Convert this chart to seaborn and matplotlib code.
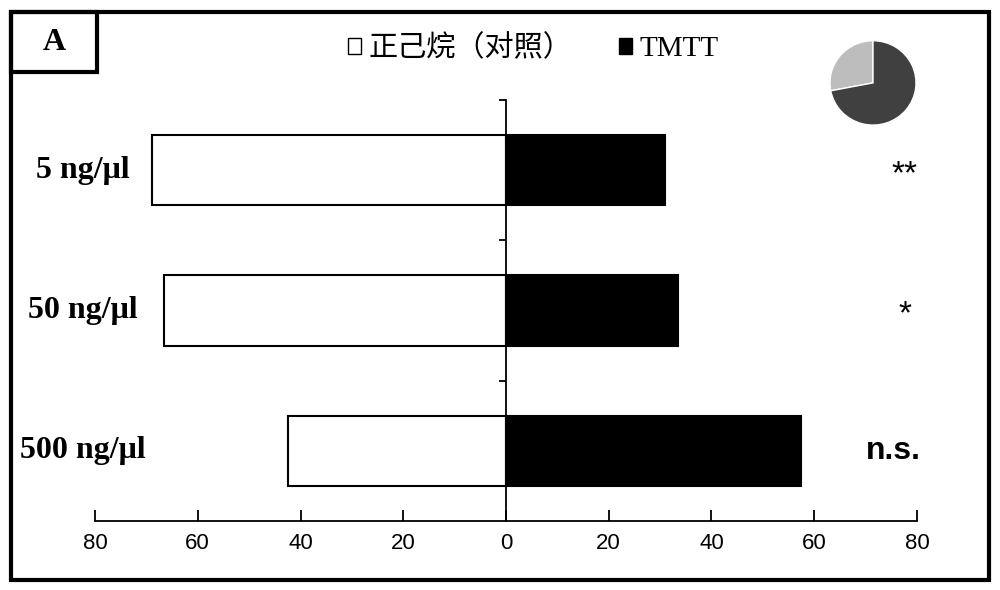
import numpy as np
import pandas as pd
import matplotlib
matplotlib.use("Agg")
import matplotlib.pyplot as plt
from matplotlib.patches import Patch, Rectangle
import seaborn as sns

# ── data ──────────────────────────────────────────────────────────────────────
doses = ["5 ng/μl", "50 ng/μl", "500 ng/μl"]
hexane_pct = [69, 66.5, 42.5]       # 正己烷（对照）, drawn to the left
tmtt_pct = [31, 33.5, 57.5]         # TMTT, drawn to the right
signif = ["**", "*", "n.s."]
pie_share = [28, 72]                # light / dark wedge
xticks = [-80, -60, -40, -20, 0, 20, 40, 60, 80]

df = pd.DataFrame({"dose": doses,
                   "hexane": [-v for v in hexane_pct],
                   "tmtt": tmtt_pct})

sns.set_theme(style="white")
plt.rcParams["font.family"] = ["Liberation Serif", "Noto Sans CJK SC", "DejaVu Sans"]
plt.rcParams.update({"text.color": "black", "xtick.color": "black",
                     "ytick.color": "black", "axes.edgecolor": "black"})

fig = plt.figure(figsize=(10, 5.9), dpi=100)
ax = fig.add_axes([0.095, 0.117, 0.822, 0.7135])

sns.barplot(data=df, x="hexane", y="dose", orient="h", color="white",
            edgecolor="black", linewidth=1.5, width=0.5, ax=ax, saturation=1)
sns.barplot(data=df, x="tmtt", y="dose", orient="h", color="black",
            edgecolor="black", linewidth=1.5, width=0.5, ax=ax, saturation=1)

ax.set_xlim(-80, 80)
ax.set_ylim(2.5, -0.5)
ax.set_xlabel("");  ax.set_ylabel("")

# spines: bottom axis + centre line at zero
for s in ["top", "right"]:
    ax.spines[s].set_visible(False)
ax.spines["left"].set_position(("data", 0))
ax.spines["left"].set_linewidth(1.3)
ax.spines["bottom"].set_linewidth(1.3)

ax.set_xticks(xticks)
ax.set_xticklabels([str(abs(t)) for t in xticks], fontfamily="Liberation Sans",
                   fontsize=16)
ax.tick_params(axis="x", direction="in", length=8, width=1.3,
               pad=9, bottom=True)
ax.set_yticks([-0.5, 0.5, 1.5])
ax.set_yticklabels([])
ax.tick_params(axis="y", direction="out", length=5, width=1.3, left=True)

# dose labels left of the plot
trans = matplotlib.transforms.blended_transform_factory(ax.transAxes, ax.transData)
for i, lab in enumerate(doses):
    ax.text(-0.015, i, lab, transform=trans, ha="center", va="center",
            fontsize=23, fontweight="bold", fontfamily="Liberation Serif")

# significance marks
for i, s in enumerate(signif):
    if s == "n.s.":
        ax.text(80.8, i, s, ha="right", va="center", fontsize=23,
                fontweight="bold", fontfamily="Liberation Sans", clip_on=False)
    else:
        ax.text(77.6, i + 0.03, s, ha="center", va="center", fontsize=24,
                fontfamily="Liberation Sans", clip_on=False)

# legend
handles = [Patch(facecolor="white", edgecolor="black", lw=1.0, label="正己烷（对照）"),
           Patch(facecolor="black", edgecolor="black", label="TMTT")]
fig.legend(handles=handles, loc="center", bbox_to_anchor=(0.533, 0.918), ncol=2,
           frameon=False, handlelength=0.45, handleheight=0.45,
           handletextpad=0.25, columnspacing=1.6,
           prop={"family": ["Liberation Serif", "Noto Sans CJK SC"], "size": 21})

# small pie, top right
pax = fig.add_axes([0.830, 0.788, 0.086, 0.143])
pax.pie(pie_share, colors=["#bdbdbd", "#404040"], startangle=90,
        counterclock=True, radius=1)
pax.set_aspect("auto")
pax.set_xlim(-1, 1);  pax.set_ylim(-1, 1)

# frame and panel label
fig.patches.append(Rectangle((0.011, 0.017), 0.978, 0.962, transform=fig.transFigure,
                             fill=False, edgecolor="black", lw=3))
fig.patches.append(Rectangle((0.011, 0.878), 0.086, 0.101, transform=fig.transFigure,
                             fill=False, edgecolor="black", lw=3))
fig.text(0.054, 0.928, "A", ha="center", va="center", fontsize=23,
         fontweight="bold", fontfamily="Liberation Serif")

fig.savefig("out.png", dpi=100)
